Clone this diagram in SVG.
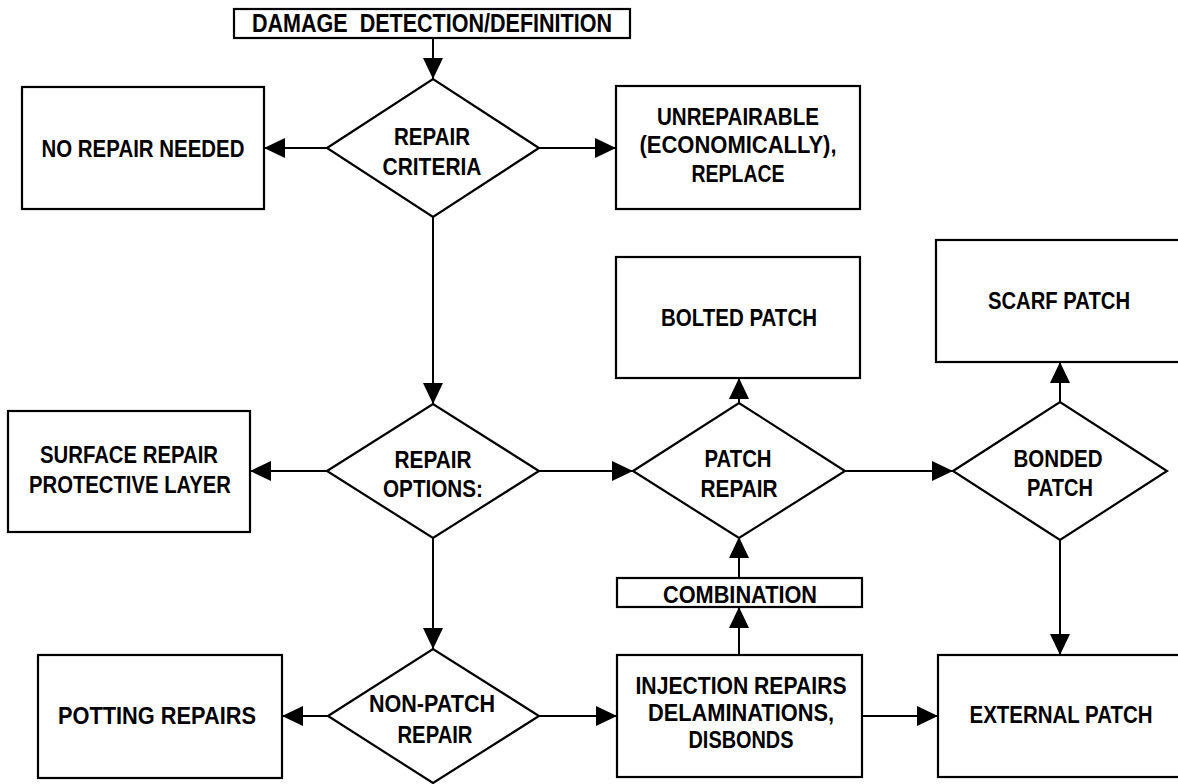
<svg xmlns="http://www.w3.org/2000/svg" width="1178" height="784" viewBox="0 0 1178 784">
  <defs>
    <marker id="arrow" viewBox="0 0 21 20" refX="21" refY="10" markerWidth="21" markerHeight="20" markerUnits="userSpaceOnUse" orient="auto">
      <path d="M0,0 L21,10 L0,20 z" fill="#000"/>
    </marker>
    <style>
      .box { fill: #fff; stroke: #000; stroke-width: 2.2; }
      .dia { fill: #fff; stroke: #000; stroke-width: 2.2; stroke-linejoin: miter; }
      .lbl { font-family: "Liberation Sans", Arial, sans-serif; font-weight: bold; font-size: 24px; fill: #000; text-anchor: middle; }
      .con { stroke: #000; stroke-width: 2; fill: none; marker-end: url(#arrow); }
    </style>
  </defs>
  <rect width="1178" height="784" fill="#fff"/>

  <!-- connectors -->
  <g id="connectors">
    <line class="con" x1="433" y1="38" x2="433" y2="79"/>
    <line class="con" x1="327" y1="148" x2="264" y2="148"/>
    <line class="con" x1="539" y1="148" x2="616" y2="148"/>
    <line class="con" x1="433" y1="217" x2="433" y2="404"/>
    <line class="con" x1="327" y1="471" x2="250" y2="471"/>
    <line class="con" x1="539" y1="471" x2="633" y2="471"/>
    <line class="con" x1="433" y1="538" x2="433" y2="649"/>
    <line class="con" x1="328" y1="716" x2="282" y2="716"/>
    <line class="con" x1="539" y1="716" x2="617" y2="716"/>
    <line class="con" x1="739" y1="403" x2="739" y2="378"/>
    <line class="con" x1="845" y1="471" x2="953" y2="471"/>
    <line class="con" x1="1060" y1="402" x2="1060" y2="362"/>
    <line class="con" x1="1060" y1="540" x2="1060" y2="655"/>
    <line class="con" x1="739" y1="655" x2="739" y2="607"/>
    <line class="con" x1="739" y1="578" x2="739" y2="537"/>
    <line class="con" x1="862" y1="716" x2="938" y2="716"/>
  </g>

  <g id="damage-detection">
    <rect class="box" x="234" y="9" width="396" height="29"/>
    <text class="lbl" x="432" y="32" style="font-size:25px" textLength="360" lengthAdjust="spacingAndGlyphs" xml:space="preserve">DAMAGE  DETECTION/DEFINITION</text>
  </g>

  <g id="repair-criteria">
    <polygon class="dia" points="327,148 433,79 539,148 433,217"/>
    <text class="lbl" x="432" y="145" textLength="76" lengthAdjust="spacingAndGlyphs">REPAIR</text>
    <text class="lbl" x="432" y="175" textLength="99" lengthAdjust="spacingAndGlyphs">CRITERIA</text>
  </g>

  <g id="no-repair">
    <rect class="box" x="22" y="87" width="242" height="122"/>
    <text class="lbl" x="143" y="157" textLength="203" lengthAdjust="spacingAndGlyphs">NO REPAIR NEEDED</text>
  </g>

  <g id="unrepairable">
    <rect class="box" x="616" y="86" width="244" height="123"/>
    <text class="lbl" x="738" y="125" textLength="162" lengthAdjust="spacingAndGlyphs">UNREPAIRABLE</text>
    <text class="lbl" x="738" y="153" textLength="197" lengthAdjust="spacingAndGlyphs">(ECONOMICALLY),</text>
    <text class="lbl" x="738" y="182" textLength="93" lengthAdjust="spacingAndGlyphs">REPLACE</text>
  </g>

  <g id="bolted-patch">
    <rect class="box" x="616" y="257" width="244" height="121"/>
    <text class="lbl" x="739" y="326" textLength="156" lengthAdjust="spacingAndGlyphs">BOLTED PATCH</text>
  </g>

  <g id="scarf-patch">
    <rect class="box" x="936" y="240" width="250" height="122"/>
    <text class="lbl" x="1059" y="309" textLength="142" lengthAdjust="spacingAndGlyphs">SCARF PATCH</text>
  </g>

  <g id="surface-repair">
    <rect class="box" x="8" y="411" width="242" height="121"/>
    <text class="lbl" x="129" y="463" textLength="178" lengthAdjust="spacingAndGlyphs">SURFACE REPAIR</text>
    <text class="lbl" x="130" y="493" textLength="202" lengthAdjust="spacingAndGlyphs">PROTECTIVE LAYER</text>
  </g>

  <g id="repair-options">
    <polygon class="dia" points="327,471 433,404 539,471 433,538"/>
    <text class="lbl" x="433" y="468" textLength="77" lengthAdjust="spacingAndGlyphs">REPAIR</text>
    <text class="lbl" x="433" y="497" textLength="100" lengthAdjust="spacingAndGlyphs">OPTIONS:</text>
  </g>

  <g id="patch-repair">
    <polygon class="dia" points="633,471 739,403 845,471 739,538"/>
    <text class="lbl" x="738" y="467" textLength="67" lengthAdjust="spacingAndGlyphs">PATCH</text>
    <text class="lbl" x="739" y="497" textLength="77" lengthAdjust="spacingAndGlyphs">REPAIR</text>
  </g>

  <g id="bonded-patch">
    <polygon class="dia" points="953,471 1060,402 1167,471 1060,540"/>
    <text class="lbl" x="1058" y="467" textLength="89" lengthAdjust="spacingAndGlyphs">BONDED</text>
    <text class="lbl" x="1060" y="496" textLength="66" lengthAdjust="spacingAndGlyphs">PATCH</text>
  </g>

  <g id="combination">
    <rect class="box" x="617" y="578" width="245" height="29"/>
    <text class="lbl" x="740" y="603" textLength="154" lengthAdjust="spacingAndGlyphs">COMBINATION</text>
  </g>

  <g id="non-patch-repair">
    <polygon class="dia" points="328,716 433,649 539,716 433,783"/>
    <text class="lbl" x="432" y="712" textLength="126" lengthAdjust="spacingAndGlyphs">NON-PATCH</text>
    <text class="lbl" x="435" y="743" textLength="75" lengthAdjust="spacingAndGlyphs">REPAIR</text>
  </g>

  <g id="potting-repairs">
    <rect class="box" x="38" y="655" width="244" height="123"/>
    <text class="lbl" x="157" y="724" textLength="198" lengthAdjust="spacingAndGlyphs">POTTING REPAIRS</text>
  </g>

  <g id="injection-repairs">
    <rect class="box" x="617" y="655" width="245" height="122"/>
    <text class="lbl" x="741" y="694" textLength="211" lengthAdjust="spacingAndGlyphs">INJECTION REPAIRS</text>
    <text class="lbl" x="741" y="721" textLength="186" lengthAdjust="spacingAndGlyphs">DELAMINATIONS,</text>
    <text class="lbl" x="741" y="748" textLength="105" lengthAdjust="spacingAndGlyphs">DISBONDS</text>
  </g>

  <g id="external-patch">
    <rect class="box" x="938" y="655" width="250" height="122"/>
    <text class="lbl" x="1061" y="723" textLength="183" lengthAdjust="spacingAndGlyphs">EXTERNAL PATCH</text>
  </g>
</svg>
